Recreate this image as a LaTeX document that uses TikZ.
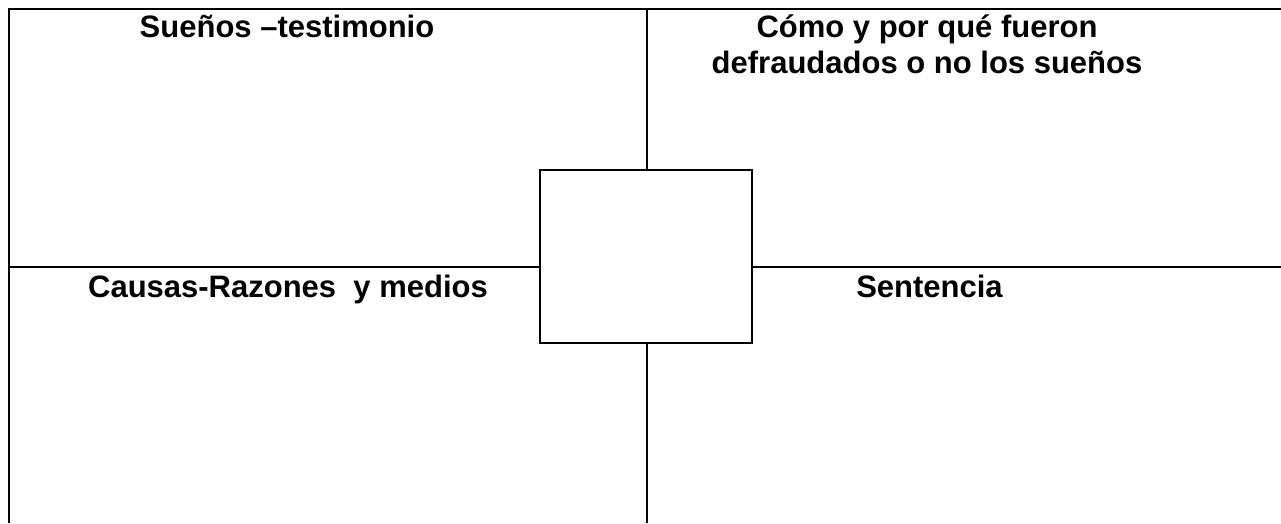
\documentclass[tikz,border=0pt]{standalone}
\usepackage{fontspec}
\setmainfont{Liberation Sans}
\usetikzlibrary{positioning}

\begin{document}
\begin{tikzpicture}[x=1pt,y=-1pt,
    frame/.style={line width=2.4pt},
    title/.style={font=\bfseries\fontsize{31}{36}\selectfont, align=center, inner sep=0pt, anchor=base}]
    \useasboundingbox (0,0) rectangle (1281,523);
    %lines
    \coordinate (tl) at (9,9);
    \coordinate (tr) at (1281,9);
    \coordinate (bl) at (9,523);
    \coordinate (tm) at (647,9);
    \coordinate (bm) at (647,523);
    \coordinate (ml) at (9,267);
    \coordinate (mr) at (1281,267);
    \draw[frame] (bl) -- (tl) -- (tr);
    \draw[frame] (tm) -- (bm);
    \draw[frame] (ml) -- (mr);
    %box
    \node[draw, fill=white, line width=2.2pt, minimum width=212pt, minimum height=173pt, inner sep=0pt] (centre) at (646,256.5) {};
    %titles
    \node[title] (suenos) at (287,37) {Sueños –testimonio};
    \node[title] (como) at (927,73) {Cómo y por qué fueron\\defraudados o no los sueños};
    \node[title] (causas) at (288,297) {Causas-Razones\ \ y medios};
    \node[title] (sentencia) at (929.5,297) {Sentencia};
\end{tikzpicture}
\end{document}
